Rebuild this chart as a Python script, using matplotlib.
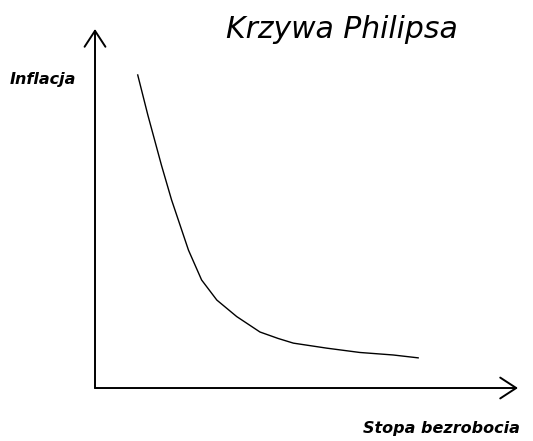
import matplotlib
matplotlib.use("Agg")
import matplotlib.pyplot as plt

# Phillips curve (arbitrary units: axis length = 10)
unemployment = [1.01, 1.25, 1.57, 1.81, 1.97, 2.21, 2.52, 2.88, 3.35, 3.90, 4.33, 4.69, 5.48, 6.26, 7.05, 7.64]
inflation    = [8.72, 7.60, 6.21, 5.24, 4.68, 3.84, 3.01, 2.45, 1.99, 1.56, 1.38, 1.25, 1.11, 0.99, 0.92, 0.84]

title = "Krzywa Philipsa"
ylabel = "Inflacja"
xlabel = "Stopa bezrobocia"
axis_len = 10

fig = plt.figure(figsize=(5.33, 4.41), dpi=100)
ax = fig.add_axes([0, 0, 1, 1])
ax.set_xlim(-2.246, 10.355)
ax.set_ylim(-1.476, 10.808)
ax.axis("off")

arrow = dict(arrowstyle="->,head_length=1.15,head_width=0.75", color="black", lw=1.4,
             shrinkA=0, shrinkB=0, mutation_scale=10)
ax.annotate("", xy=(0, axis_len), xytext=(0, 0), arrowprops=arrow)
ax.annotate("", xy=(axis_len, 0), xytext=(0, 0), arrowprops=arrow)

ax.plot(unemployment, inflation, color="black", lw=1.0, solid_joinstyle="round")

fig.text(342 / 533, 1 - 38 / 441, title, fontsize=21.5, style="italic",
         family="DejaVu Sans", ha="center", va="baseline")
fig.text(10 / 533, 1 - 84 / 441, ylabel, fontsize=11.5, style="italic", weight="bold",
         family="DejaVu Sans", ha="left", va="baseline")
fig.text(520 / 533, 1 - 433 / 441, xlabel, fontsize=11.5, style="italic", weight="bold",
         family="DejaVu Sans", ha="right", va="baseline")

fig.savefig("out.png", dpi=100, facecolor="white")
